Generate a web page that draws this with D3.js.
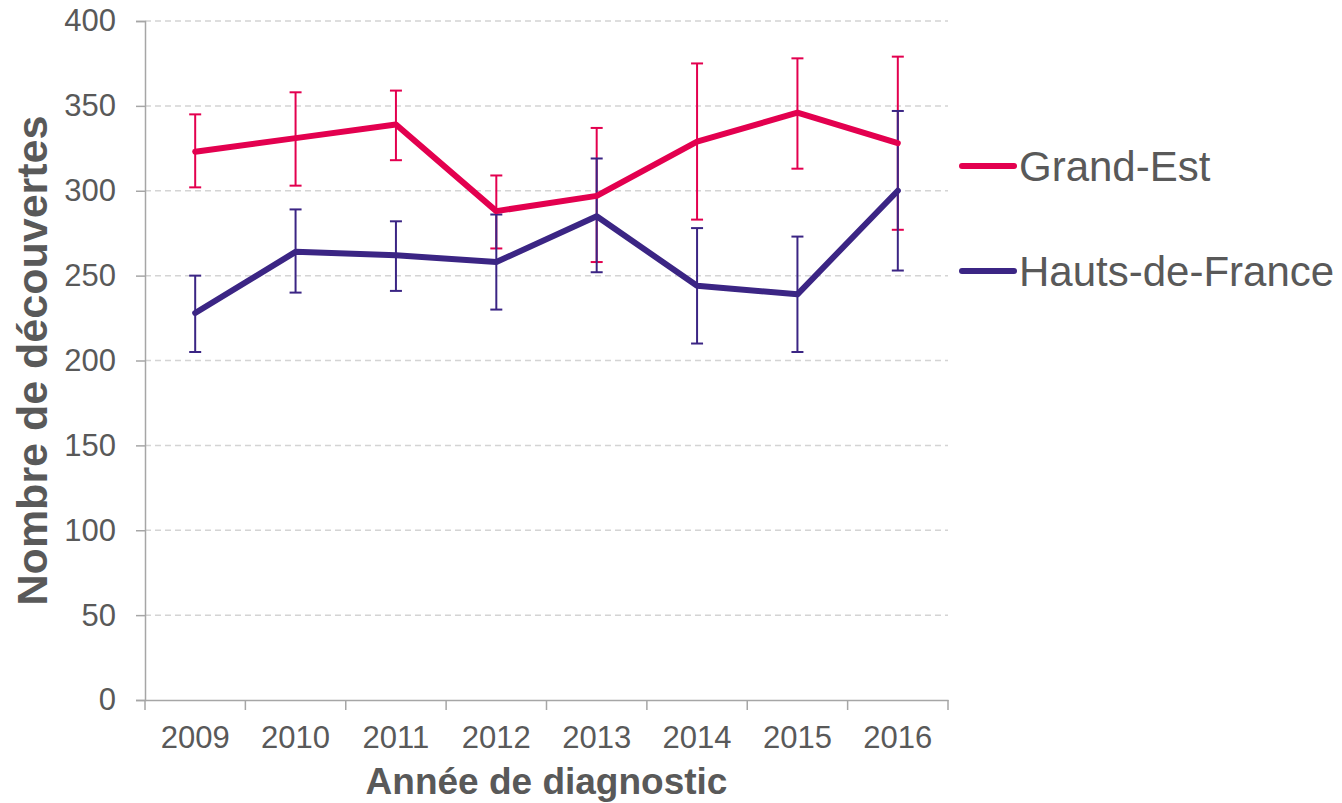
<!DOCTYPE html>
<html>
<head>
<meta charset="utf-8">
<script src="https://cdn.jsdelivr.net/npm/d3@7"></script>
<style>
  body { margin: 0; background: #fff; }
  text { font-family: "Liberation Sans", Arial, sans-serif; fill: #595959; }
</style>
</head>
<body>
<script>
var years = ['2009', '2010', '2011', '2012', '2013', '2014', '2015', '2016'];
var yTicks = [0, 50, 100, 150, 200, 250, 300, 350, 400];

var grandEst = [323, 331, 339, 288, 297, 329, 346, 328];
var grandEstLow = [302, 303, 318, 266, 258, 283, 313, 277];
var grandEstHigh = [345, 358, 359, 309, 337, 375, 378, 379];

var hauts = [228, 264, 262, 258, 285, 244, 239, 300];
var hautsLow = [205, 240, 241, 230, 252, 210, 205, 253];
var hautsHigh = [250, 289, 282, 286, 319, 278, 273, 347];

var series = [
    { name: 'Grand-Est', color: '#e3004f', val: grandEst, lo: grandEstLow, hi: grandEstHigh },
    { name: 'Hauts-de-France', color: '#3b2584', val: hauts, lo: hautsLow, hi: hautsHigh }
];

var width = 1342, height = 803;
var margin = { left: 145, right: 394, top: 21, bottom: 103 };
var w = width - margin.left - margin.right,
    h = height - margin.top - margin.bottom;

var x = d3.scaleBand().domain(years).range([0, w]);
var y = d3.scaleLinear().domain([0, 400]).range([h, 0]);

var svg = d3.select('body').append('svg').attr('width', width).attr('height', height);
var g = svg.append('g').attr('transform', 'translate(' + margin.left + ',' + margin.top + ')');

// grid
g.selectAll('.grid').data(yTicks.slice(1)).enter().append('line')
    .attr('x1', 0).attr('x2', w)
    .attr('y1', function(d) { return y(d); }).attr('y2', function(d) { return y(d); })
    .attr('stroke', '#d4d4d4').attr('stroke-width', 1.5).attr('stroke-dasharray', '6,4');

// y axis
var yAxis = d3.axisLeft(y).tickValues(yTicks).tickSize(9).tickPadding(20);
var ya = g.append('g').call(yAxis);
ya.select('.domain').attr('stroke', '#a6a6a6').attr('stroke-width', 1.5);
ya.selectAll('.tick line').attr('stroke', '#a6a6a6').attr('stroke-width', 1.5);
ya.selectAll('text').style('font-size', '31px').attr('fill', '#595959');

// x axis
var xAxis = d3.axisBottom(x).tickSize(0).tickPadding(26);
var xa = g.append('g').attr('transform', 'translate(0,' + h + ')').call(xAxis);
xa.select('.domain').attr('stroke', '#a6a6a6').attr('stroke-width', 1.5);
xa.selectAll('text').style('font-size', '31px').attr('fill', '#595959');
var edges = years.map(function(d) { return x(d); }).concat([w]);
xa.selectAll('.edge').data(edges).enter().append('line')
    .attr('x1', function(d) { return d; }).attr('x2', function(d) { return d; })
    .attr('y1', 0).attr('y2', 10)
    .attr('stroke', '#a6a6a6').attr('stroke-width', 1.5);

var cx = function(i) { return x(years[i]) + x.bandwidth() / 2; };

// error bars
series.forEach(function(s) {
    var eb = g.append('g');
    years.forEach(function(yr, i) {
        eb.append('line').attr('x1', cx(i)).attr('x2', cx(i))
            .attr('y1', y(s.lo[i])).attr('y2', y(s.hi[i]))
            .attr('stroke', s.color).attr('stroke-width', 2);
        [s.lo[i], s.hi[i]].forEach(function(v) {
            eb.append('line').attr('x1', cx(i) - 6).attr('x2', cx(i) + 6)
                .attr('y1', y(v)).attr('y2', y(v))
                .attr('stroke', s.color).attr('stroke-width', 2);
        });
    });
});

// lines
var line = d3.line()
    .x(function(d, i) { return cx(i); })
    .y(function(d) { return y(d); });
series.forEach(function(s) {
    g.append('path').attr('d', line(s.val))
        .attr('fill', 'none').attr('stroke', s.color)
        .attr('stroke-width', 6).attr('stroke-linejoin', 'round').attr('stroke-linecap', 'round');
});

// axis titles
svg.append('text')
    .attr('x', margin.left + w / 2).attr('y', 794)
    .attr('text-anchor', 'middle')
    .style('font-size', '37px').style('font-weight', 'bold')
    .text('Année de diagnostic');
svg.append('text')
    .attr('transform', 'translate(47,' + (margin.top + h / 2) + ') rotate(-90)')
    .attr('text-anchor', 'middle')
    .style('font-size', '43px').style('font-weight', 'bold')
    .text('Nombre de découvertes');

// legend
var legY = [166, 271];
series.forEach(function(s, i) {
    svg.append('line').attr('x1', 962).attr('x2', 1014)
        .attr('y1', legY[i]).attr('y2', legY[i])
        .attr('stroke', s.color).attr('stroke-width', 6).attr('stroke-linecap', 'round');
    svg.append('text').attr('x', 1019).attr('y', legY[i]).attr('dy', '0.35em')
        .style('font-size', '42px').text(s.name);
});
</script>
</body>
</html>
